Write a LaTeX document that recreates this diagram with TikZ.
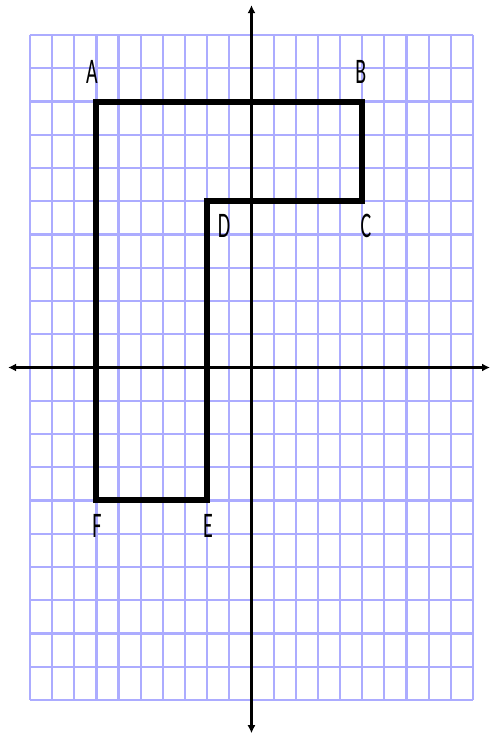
\documentclass[tikz,border=0pt]{standalone}
\usepackage{fontspec}
\setmainfont{Carlito}
\usetikzlibrary{arrows.meta}
\definecolor{gridblue}{RGB}{172,172,255}
\begin{document}
\begin{tikzpicture}[x=22.15pt,y=33.25pt,
  gridline/.style={draw=gridblue, line width=2.2pt, xstep=1, ystep=1},
  axisline/.style={line width=2.6pt, {Latex[length=8pt,width=8pt]}-{Latex[length=8pt,width=8pt]}},
  polyline/.style={line width=6pt, line join=miter, line cap=round},
  ptlabel/.style={inner sep=0pt, font=\fontsize{20}{20}\selectfont}
]
\useasboundingbox (-11.354,-11.083) rectangle (10.813,11.053);
\fill[white] (-11.354,-11.083) rectangle (10.813,11.053);
% grid
\draw[gridline] (-10,-10) grid (10,10);
% axes
\coordinate (xl) at (-10.99,0);
\coordinate (xr) at (10.77,0);
\coordinate (yt) at (0,10.9);
\coordinate (yb) at (0,-11.0);
\draw[axisline] (xl) -- (xr);
\draw[axisline] (yb) -- (yt);
% vertices
\coordinate (A) at (-7,8);
\coordinate (B) at (5,8);
\coordinate (C) at (5,5);
\coordinate (D) at (-2,5);
\coordinate (E) at (-2,-4);
\coordinate (F) at (-7,-4);
\draw[polyline] (A) -- (B) -- (C) -- (D) -- (E) -- (F) -- cycle;
% labels
\node[ptlabel] (lA) at (-7.2,8.89) {\scalebox{1}[1.8]{A}};
\node[ptlabel] (lB) at (4.94,8.89) {\scalebox{1}[1.8]{B}};
\node[ptlabel] (lC) at (5.17,4.26) {\scalebox{1}[1.8]{C}};
\node[ptlabel] (lD) at (-1.24,4.26) {\scalebox{1}[1.8]{D}};
\node[ptlabel] (lE) at (-1.96,-4.77) {\scalebox{1}[1.8]{E}};
\node[ptlabel] (lF) at (-6.98,-4.77) {\scalebox{1}[1.8]{F}};
\end{tikzpicture}
\end{document}
